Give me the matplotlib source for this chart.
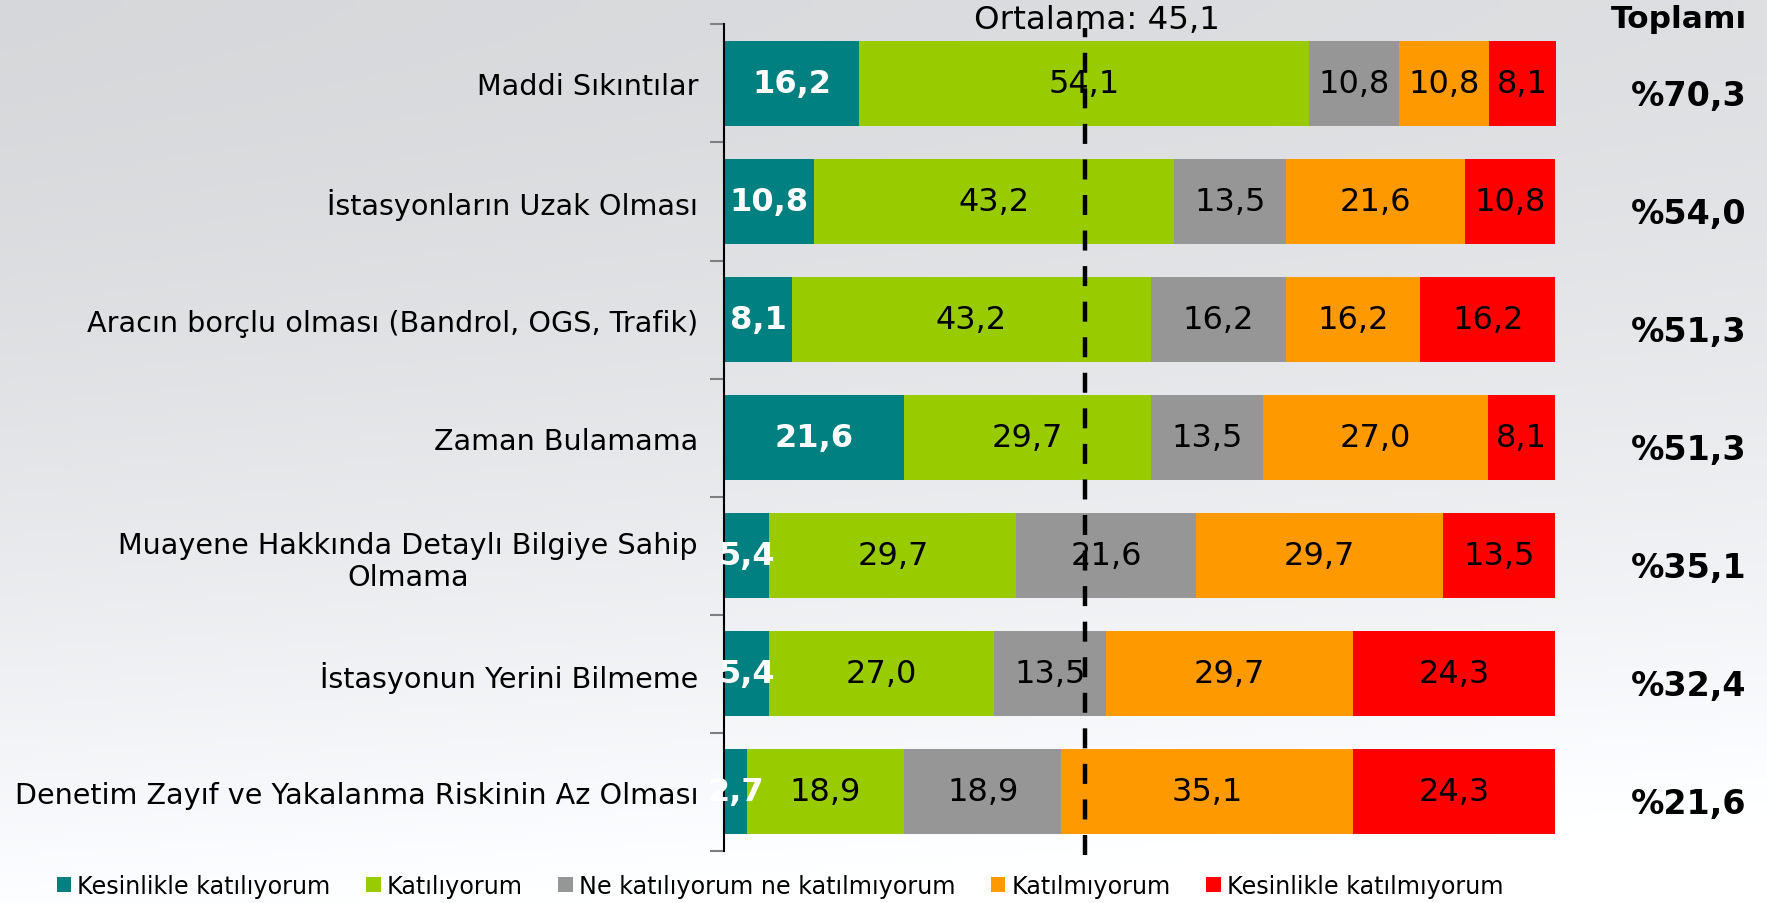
import numpy as np
import matplotlib.pyplot as plt
from matplotlib.patches import Patch

kategoriler = ["Maddi Sıkıntılar",
               "İstasyonların Uzak Olması",
               "Aracın borçlu olması (Bandrol, OGS, Trafik)",
               "Zaman Bulamama",
               "Muayene Hakkında Detaylı Bilgiye Sahip\nOlmama",
               "İstasyonun Yerini Bilmeme",
               "Denetim Zayıf ve Yakalanma Riskinin Az Olması"]

kesinlikle_katiliyorum = [16.2, 10.8, 8.1, 21.6, 5.4, 5.4, 2.7]
katiliyorum = [54.1, 43.2, 43.2, 29.7, 29.7, 27.0, 18.9]
ne_ne = [10.8, 13.5, 16.2, 13.5, 21.6, 13.5, 18.9]
katilmiyorum = [10.8, 21.6, 16.2, 27.0, 29.7, 29.7, 35.1]
kesinlikle_katilmiyorum = [8.1, 10.8, 16.2, 8.1, 13.5, 24.3, 24.3]

seriler = ["Kesinlikle katılıyorum", "Katılıyorum", "Ne katılıyorum ne katılmıyorum",
           "Katılmıyorum", "Kesinlikle katılmıyorum"]
renkler = ["#008080", "#99cc00", "#969696", "#ff9900", "#ff0000"]

ortalama = 45.1
ortalama_konum = 43.4  # cizginin resimdeki yeri

def virgul(v):
	return ("%.1f" % v).replace(".", ",")

fig = plt.figure(figsize=(17.67, 9.04), dpi=100)

# arka plan
bg = fig.add_axes([0, 0, 1, 1], zorder=-10)
yy, xx = np.mgrid[0:1:200j, 0:1:200j]
ton = 0.84 + 0.15 * yy ** 1.5 + 0.03 * xx
bg.imshow(np.dstack([ton, ton + 0.005, ton + 0.015]).clip(0, 1), aspect="auto", extent=[0, 1, 0, 1])
bg.axis("off")

ax = fig.add_axes([0.410, 0.0575, 0.4706, 0.9145])
ax.patch.set_alpha(0)

veriler = [kesinlikle_katiliyorum, katiliyorum, ne_ne, katilmiyorum, kesinlikle_katilmiyorum]
y = np.arange(len(kategoriler))
sol = np.zeros(len(kategoriler))
for i, seri in enumerate(veriler):
	seri = np.array(seri)
	ax.barh(y, seri, left=sol, height=0.72, color=renkler[i], label=seriler[i])
	for j in range(len(seri)):
		if i == 0:
			ax.text(sol[j] + seri[j] / 2, y[j], virgul(seri[j]), ha="center", va="center",
				color="white", fontsize=23, fontweight="bold", clip_on=False)
		else:
			ax.text(sol[j] + seri[j] / 2, y[j], virgul(seri[j]), ha="center", va="center",
				color="black", fontsize=23)
	sol = sol + seri

ax.set_xlim(0, 100)
ax.set_ylim(len(kategoriler) - 0.5, -0.5)
ax.set_xticks([])
ax.set_yticks(y)
ax.set_yticklabels(kategoriler, fontsize=20.6, multialignment="center")
ax.set_yticks(np.arange(-0.5, len(kategoriler)), minor=True)
ax.tick_params(axis="y", which="major", length=0, pad=19)
ax.tick_params(axis="y", which="minor", length=10, color="#7f7f7f", width=1.5)
for s in ["top", "right", "bottom"]:
	ax.spines[s].set_visible(False)
ax.spines["left"].set_linewidth(1.5)

ax.axvline(ortalama_konum, ymin=-0.005, ymax=0.995, color="black", lw=3.2,
	linestyle=(0, (4.5, 3.5)), clip_on=False)
fig.text(0.621, 0.977, "Ortalama: " + virgul(ortalama), ha="center", va="center", fontsize=23.4)

toplam = np.array(kesinlikle_katiliyorum) + np.array(katiliyorum)
fig.text(0.950, 0.978, "Toplamı", ha="center", va="center", fontsize=22.5, fontweight="bold")
for j in range(len(kategoriler)):
	ax.text(116, y[j] + 0.1, "%" + virgul(toplam[j]), ha="center", va="center",
		fontsize=24, fontweight="bold", clip_on=False)

kutular = [Patch(facecolor=c) for c in renkler]
fig.legend(kutular, seriler, loc="center left", bbox_to_anchor=(0.020, 0.019), ncol=5,
	frameon=False, fontsize=17.2, handlelength=0.6, handleheight=0.6, handletextpad=0.25,
	columnspacing=1.5)

plt.savefig("out.png", dpi=100)
